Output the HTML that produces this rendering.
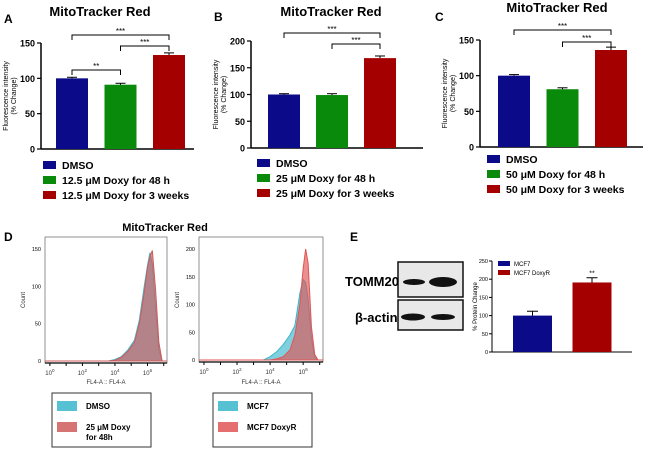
<!DOCTYPE html>
<html><head><meta charset="utf-8"><style>
body{margin:0;background:#fff;width:650px;height:452px;overflow:hidden;font-family:"Liberation Sans",sans-serif}
svg{position:absolute;left:0;top:0}
</style></head><body>
<svg id="fig" width="650" height="452" viewBox="0 0 650 452" font-family="Liberation Sans, sans-serif"></svg>
<script>
// ---- data ----
const barCats = ["DMSO","48 h","3 weeks"];
const valsA = [100, 91, 133];
const errA = [1.5, 2, 3];
const valsB = [100, 99, 168];
const errB = [1.5, 2.5, 4];
const valsC = [100, 81, 136];
const errC = [1.5, 2, 4];
const ticksA = [0,50,100,150];
const ticksB = [0,50,100,150,200];
const ticksC = [0,50,100,150];
const legendA = ["DMSO","12.5 \u03bcM Doxy for 48 h","12.5 \u03bcM Doxy for 3 weeks"];
const legendB = ["DMSO","25 \u03bcM Doxy for 48 h","25 \u03bcM Doxy for 3 weeks"];
const legendC = ["DMSO","50 \u03bcM Doxy for 48 h","50 \u03bcM Doxy for 3 weeks"];
const histLogs = [-0.3,3.6,4.0,4.4,4.8,5.2,5.5,5.8,6.0,6.15,6.3,6.5,6.7,6.9,7.2];
const histDmso = [0,0,2,6,15,28,55,100,128,145,130,70,15,0,0];
const histDoxy = [0,0,1,5,13,25,50,92,125,140,148,95,25,0,0];
const histMcf7 = [0,0,6,15,28,45,62,120,145,140,110,40,5,0,0];
const histDoxyR = [0,0,0,2,6,18,45,100,165,200,175,60,10,0,0];
const eCats = ["MCF7","MCF7 DoxyR"];
const eVals = [100, 191];
const eErr = [12, 13];
const eTicks = [0,50,100,150,200,250];
const barColors = ["#0b0b8a","#0a8a0a","#a50000"];

const S = document.getElementById('fig');
const NS = "http://www.w3.org/2000/svg";
function el(tag, at, txt){const e=document.createElementNS(NS,tag);for(const k in at)e.setAttribute(k,at[k]);if(txt!==undefined)e.textContent=txt;S.appendChild(e);return e;}

function barPanel(p){
  const y=v=>p.y0-(v/p.ymax)*(p.y0-p.ytop);
  const t=el('text',{x:p.tx,y:p.ty,'font-size':13,'font-weight':'bold','text-anchor':'middle'},'MitoTracker Red');
  
  const l=el('text',{x:p.lx,y:p.ly,'font-size':12,'font-weight':'bold'},p.id.toUpperCase());
  
  el('line',{x1:p.ax,y1:p.ytop,x2:p.ax,y2:p.y0,stroke:'#000','stroke-width':1.5});
  el('line',{x1:p.ax,y1:p.y0,x2:p.axEnd,y2:p.y0,stroke:'#000','stroke-width':1.5});
  p.ticks.forEach(v=>{el('line',{x1:p.ax-4,y1:y(v),x2:p.ax,y2:y(v),stroke:'#000','stroke-width':1.2});
    el('text',{x:p.ax-6,y:y(v)+3.5,'font-size':9,'font-weight':'bold','text-anchor':'end'},v);});
  const yt=el('text',{transform:`translate(${p.ytx},${(p.ytop+p.y0)/2}) rotate(-90)`,'font-size':7,'text-anchor':'middle'});
  
  const t1=document.createElementNS(NS,'tspan');t1.setAttribute('x',0);t1.setAttribute('dy',0);t1.textContent='Fluorescence intensity';yt.appendChild(t1);
  const t2=document.createElementNS(NS,'tspan');t2.setAttribute('x',0);t2.setAttribute('dy',8);t2.textContent='(%  Change)';yt.appendChild(t2);
  const cx=[];
  p.vals.forEach((v,i)=>{const x=p.bx0+i*p.step;cx.push(x+p.bw/2);
    const r=el('rect',{x:x,y:y(v),width:p.bw,height:p.y0-y(v),fill:barColors[i]});
    
    const e=p.err[i];el('line',{x1:x+p.bw/2,y1:y(v),x2:x+p.bw/2,y2:y(v+e),stroke:'#000'});
    el('line',{x1:x+p.bw/2-5,y1:y(v+e),x2:x+p.bw/2+5,y2:y(v+e),stroke:'#000'});});
  p.brackets.forEach(b=>{const x1=cx[b[0]],x2=cx[b[1]];
    el('path',{d:`M${x1},${b[2]+5}V${b[2]}H${x2}V${b[2]+5}`,fill:'none',stroke:'#000','stroke-width':1});
    el('text',{x:(x1+x2)/2,y:b[2]-1,'font-size':8,'text-anchor':'middle'},b[3]);});
  p.legend.forEach((s,i)=>{const yy=p.legY+i*p.legStep;
    const r=el('rect',{x:p.legX,y:yy-5,width:13,height:8,fill:barColors[i]});
    
    const tt=el('text',{x:p.legX+19,y:yy+3,'font-size':10.5,'font-weight':'bold'},s);
    });
}
barPanel({id:'a',vals:valsA,err:errA,ticks:ticksA,ymax:150,y0:149,ytop:43,ax:41,axEnd:194,bx0:56,bw:32,step:48.5,
  tx:100,ty:16,lx:4,ly:23,ytx:8,legend:legendA,legX:43,legY:166,legStep:15,
  brackets:[[0,2,35,'***'],[1,2,46,'***'],[0,1,70,'**']]});
barPanel({id:'b',vals:valsB,err:errB,ticks:ticksB,ymax:200,y0:148,ytop:41,ax:251,axEnd:423,bx0:268,bw:32,step:48,
  tx:331,ty:16,lx:214,ly:21,ytx:218,legend:legendB,legX:257,legY:164,legStep:15,
  brackets:[[0,2,33,'***'],[1,2,44,'***']]});
barPanel({id:'c',vals:valsC,err:errC,ticks:ticksC,ymax:150,y0:147,ytop:40,ax:480,axEnd:643,bx0:498,bw:32,step:48.5,
  tx:557,ty:12,lx:435,ly:21,ytx:447,legend:legendC,legX:487,legY:160,legStep:15,
  brackets:[[0,2,30,'***'],[1,2,42,'***']]});

// ---- panel D ----
const dl=el('text',{x:4,y:241,'font-size':12,'font-weight':'bold'},'D');

const dt=el('text',{x:165,y:231,'font-size':11,'font-weight':'bold','text-anchor':'middle'},'MitoTracker Red');

function hist(p){
  const x=l=>p.fx0+(l+0.3)/7.5*(p.fx1-p.fx0);
  const y=v=>p.y0-v/p.ymax*(p.y0-p.ytop);
  el('rect',{x:p.fx0,y:237,width:p.fx1-p.fx0,height:p.y0+2-237,fill:'none',stroke:'#777','stroke-width':0.8});
  p.series.forEach((s,k)=>{
    let d=`M${x(histLogs[0])},${y(0)}`;histLogs.forEach((l,i)=>{d+=`L${x(l)},${y(s[i])}`;});d+=`L${x(histLogs[histLogs.length-1])},${y(0)}Z`;
    const pa=el('path',{d:d,fill:p.cols[k],'fill-opacity':0.65,stroke:p.cols[k],'stroke-width':1});
    });
  el('line',{x1:p.fx0,y1:p.y0+2,x2:p.fx1,y2:p.y0+2,stroke:'#000','stroke-width':1.2});
  p.ticks.forEach(v=>{el('text',{x:p.fx0-4,y:y(v)+2,'font-size':5.5,'text-anchor':'end'},v);});
  [0,2,4,6].forEach(e=>{const t=el('text',{x:x(e),y:p.y0+14,'font-size':6,'text-anchor':'middle',fill:'#333'},'10');
    const sp=document.createElementNS(NS,'tspan');sp.setAttribute('dy',-3);sp.setAttribute('font-size',4.5);sp.textContent=e;t.appendChild(sp);});
  for(let e=0;e<=7;e++){el('line',{x1:x(e),y1:p.y0+2,x2:x(e),y2:p.y0+5,stroke:'#000'});}
  el('text',{x:(p.fx0+p.fx1)/2,y:384,'font-size':6,'text-anchor':'middle',fill:'#333'},'FL4-A :: FL4-A');
  el('text',{transform:`translate(${p.fx0-20},300) rotate(-90)`,'font-size':6,'text-anchor':'middle',fill:'#333'},'Count');
  el('rect',{x:p.bx,y:393,width:99,height:54,fill:'#fff',stroke:'#333','stroke-width':1});
  p.labels.forEach((s,i)=>{
    const r=el('rect',{x:p.bx+5,y:401+i*21,width:20,height:10,fill:p.cols[i],'fill-opacity':0.85});
    
    s.forEach((line,j)=>{const t=el('text',{x:p.bx+34,y:409+i*21+j*10,'font-size':8,'font-weight':'bold'},line);
      });});
}
hist({fx0:45,fx1:167,y0:361,ytop:249,ymax:150,ticks:[0,50,100,150],series:[histDmso,histDoxy],cols:['#3ab6cc','#cf5a5a'],
  names:['dmso','doxy-48h'],labels:[['DMSO'],['25 \u03bcM Doxy','for 48h']],bx:52});
hist({fx0:199,fx1:323,y0:360,ytop:249,ymax:200,ticks:[0,50,100,150,200],series:[histMcf7,histDoxyR],cols:['#3ab6cc','#e05555'],
  names:['mcf7','mcf7-doxyr'],labels:[['MCF7'],['MCF7 DoxyR']],bx:213});

// ---- panel E ----
const elb=el('text',{x:350,y:241,'font-size':12,'font-weight':'bold'},'E');

el('rect',{x:398,y:262,width:65,height:35,fill:'#e8e8e8',stroke:'#111','stroke-width':1.5});
el('rect',{x:398,y:300,width:65,height:30,fill:'#e8e8e8',stroke:'#111','stroke-width':1.5});
el('ellipse',{cx:414,cy:282,rx:11,ry:3,fill:'#111'});el('ellipse',{cx:443,cy:282,rx:14,ry:5,fill:'#111'});
el('ellipse',{cx:413,cy:317,rx:12,ry:3.5,fill:'#111'});el('ellipse',{cx:443,cy:317,rx:12,ry:3,fill:'#111'});
const tl=el('text',{x:345,y:286,'font-size':13,'font-weight':'bold'},'TOMM20');
const bl=el('text',{x:355,y:322,'font-size':13,'font-weight':'bold'},'\u03b2-actin');
(function(){
  const ax=492,y0=352,ytop=261,ymax=250;const y=v=>y0-v/ymax*(y0-ytop);
  el('line',{x1:ax,y1:ytop,x2:ax,y2:y0,stroke:'#000'});el('line',{x1:ax,y1:y0,x2:632,y2:y0,stroke:'#000'});
  eTicks.forEach(v=>{el('line',{x1:ax-3,y1:y(v),x2:ax,y2:y(v),stroke:'#000'});el('text',{x:ax-4,y:y(v)+2,'font-size':5.5,'text-anchor':'end'},v);});
  el('text',{transform:`translate(477,${(ytop+y0)/2}) rotate(-90)`,'font-size':6,'text-anchor':'middle'},'%  Protein Change');
  const cols=['#0b0b8a','#a50000'];
  eVals.forEach((v,i)=>{const x=513+i*59.5;
    const r=el('rect',{x:x,y:y(v),width:39,height:y0-y(v),fill:cols[i]});
    el('line',{x1:x+19.5,y1:y(v),x2:x+19.5,y2:y(v+eErr[i]),stroke:'#000'});
    el('line',{x1:x+14,y1:y(v+eErr[i]),x2:x+25,y2:y(v+eErr[i]),stroke:'#000'});
    const lg=el('rect',{x:498,y:261+i*9,width:12,height:5,fill:cols[i]});
    const lt=el('text',{x:514,y:266+i*9,'font-size':6},eCats[i]);});
  el('text',{x:592,y:y(eVals[1]+eErr[1])-2,'font-size':7,'text-anchor':'middle'},'**');
})();
</script>
</body></html>
